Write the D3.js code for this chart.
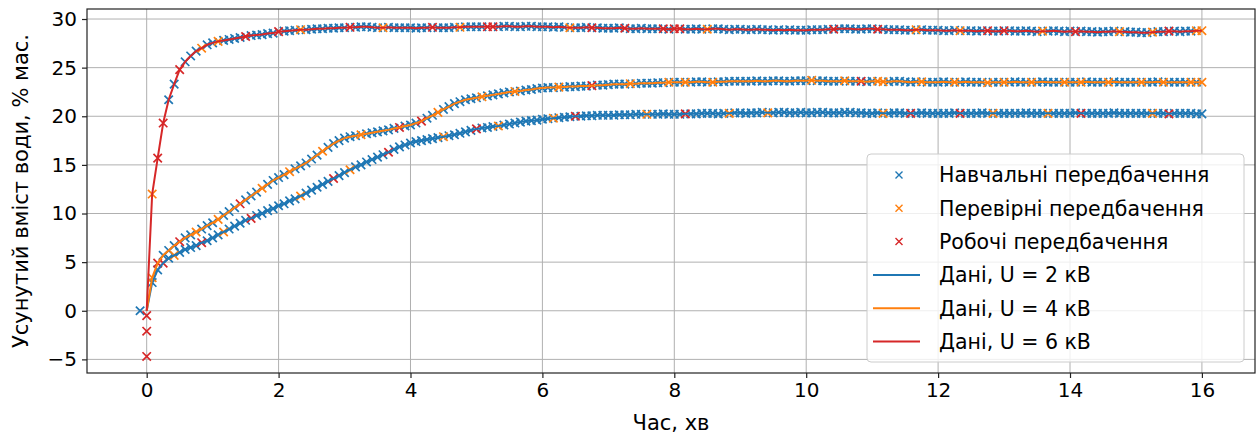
<!DOCTYPE html>
<html><head><meta charset="utf-8">
<script src="https://cdn.jsdelivr.net/npm/d3@7"></script>
<style>
html,body{margin:0;padding:0;background:#fff;}
text{font-family:"DejaVu Sans",sans-serif;fill:#000;}
</style></head>
<body>
<svg id="chart" width="1259" height="438"></svg>
<script>
// ---------- DATA ----------
const stepMin = 5 / 60; // sampling step, minutes (5 s)
const xTicks = [0, 2, 4, 6, 8, 10, 12, 14, 16];
const yTicks = [-5, 0, 5, 10, 15, 20, 25, 30];

const seriesNames = ["Дані, U = 2 кВ", "Дані, U = 4 кВ", "Дані, U = 6 кВ"];
const splitNames = ["Навчальні передбачення", "Перевірні передбачення", "Робочі передбачення"];

// U = 2 kV (one row per minute, 12 samples per row)
const valuesU2 = [
  0, 2.9, 4.2, 4.9, 5.4, 5.7, 6.0, 6.3, 6.5, 6.7, 7.0, 7.2,
  7.5, 7.8, 8.1, 8.4, 8.7, 9.0, 9.3, 9.5, 9.8, 10.0, 10.3, 10.5,
  10.8, 11.0, 11.3, 11.5, 11.8, 12.1, 12.4, 12.7, 13.0, 13.3, 13.6, 13.9,
  14.2, 14.5, 14.8, 15.0, 15.3, 15.55, 15.8, 16.05, 16.3, 16.6, 16.85, 17.05,
  17.25, 17.4, 17.5, 17.6, 17.7, 17.8, 17.9, 18.0, 18.1, 18.25, 18.4, 18.55,
  18.7, 18.8, 18.85, 18.95, 19.0, 19.1, 19.2, 19.3, 19.4, 19.5, 19.55, 19.6,
  19.7, 19.75, 19.8, 19.85, 19.9, 19.95, 20.0, 20.0, 20.05, 20.05, 20.1, 20.1,
  20.1, 20.1, 20.15, 20.15, 20.15, 20.2, 20.2, 20.2, 20.2, 20.2, 20.25, 20.2,
  20.2, 20.2, 20.25, 20.25, 20.25, 20.3, 20.3, 20.3, 20.25, 20.3, 20.3, 20.35,
  20.35, 20.3, 20.35, 20.35, 20.4, 20.35, 20.35, 20.4, 20.4, 20.35, 20.35, 20.4,
  20.35, 20.35, 20.4, 20.4, 20.35, 20.35, 20.35, 20.4, 20.4, 20.35, 20.35, 20.3,
  20.3, 20.35, 20.3, 20.3, 20.35, 20.35, 20.3, 20.3, 20.3, 20.35, 20.3, 20.3,
  20.3, 20.3, 20.3, 20.35, 20.3, 20.3, 20.3, 20.3, 20.35, 20.3, 20.3, 20.3,
  20.3, 20.3, 20.3, 20.3, 20.35, 20.3, 20.3, 20.3, 20.3, 20.3, 20.3, 20.3,
  20.3, 20.35, 20.3, 20.3, 20.3, 20.3, 20.3, 20.3, 20.35, 20.3, 20.3, 20.3,
  20.3, 20.3, 20.3, 20.3, 20.3, 20.3, 20.25, 20.3, 20.3, 20.3, 20.3, 20.25,
  20.25
];
// U = 4 kV
const valuesU4 = [
  0, 3.4, 4.9, 5.7, 6.2, 6.7, 7.1, 7.5, 7.8, 8.1, 8.4, 8.75,
  9.05, 9.4, 9.8, 10.2, 10.6, 11.0, 11.4, 11.8, 12.2, 12.6, 13.0, 13.4,
  13.7, 14.0, 14.3, 14.6, 14.9, 15.2, 15.6, 16.0, 16.4, 16.8, 17.2, 17.5,
  17.75, 17.9, 18.0, 18.1, 18.2, 18.3, 18.4, 18.5, 18.6, 18.75, 18.85, 19.0,
  19.1, 19.3, 19.5, 19.8, 20.1, 20.4, 20.7, 21.0, 21.3, 21.5, 21.7, 21.8,
  21.9, 22.0, 22.1, 22.2, 22.3, 22.4, 22.5, 22.55, 22.6, 22.7, 22.75, 22.85,
  22.9, 22.95, 22.95, 23.0, 23.0, 23.05, 23.05, 23.1, 23.1, 23.15, 23.2, 23.2,
  23.25, 23.3, 23.3, 23.3, 23.35, 23.35, 23.4, 23.4, 23.4, 23.45, 23.45, 23.5,
  23.5, 23.5, 23.5, 23.5, 23.55, 23.55, 23.5, 23.5, 23.55, 23.55, 23.6, 23.6,
  23.6, 23.6, 23.6, 23.65, 23.6, 23.6, 23.65, 23.65, 23.6, 23.6, 23.65, 23.65,
  23.65, 23.7, 23.65, 23.65, 23.6, 23.6, 23.6, 23.65, 23.6, 23.6, 23.6, 23.55,
  23.6, 23.6, 23.55, 23.55, 23.6, 23.6, 23.55, 23.5, 23.55, 23.55, 23.5, 23.5,
  23.5, 23.55, 23.5, 23.5, 23.5, 23.55, 23.5, 23.5, 23.5, 23.45, 23.5, 23.5,
  23.5, 23.5, 23.55, 23.5, 23.5, 23.5, 23.5, 23.55, 23.5, 23.5, 23.5, 23.5,
  23.5, 23.5, 23.5, 23.55, 23.5, 23.5, 23.5, 23.5, 23.55, 23.5, 23.5, 23.5,
  23.5, 23.5, 23.5, 23.5, 23.55, 23.5, 23.5, 23.5, 23.5, 23.5, 23.5, 23.5,
  23.5
];
// U = 6 kV
const valuesU6 = [
  0, 12.0, 15.7, 19.3, 21.7, 23.3, 24.8, 25.6, 26.2, 26.7, 27.0, 27.35,
  27.55, 27.7, 27.8, 27.9, 28.0, 28.1, 28.2, 28.3, 28.35, 28.4, 28.5, 28.55,
  28.7, 28.75, 28.8, 28.85, 28.9, 28.9, 28.95, 29.0, 29.0, 29.05, 29.05, 29.1,
  29.1, 29.15, 29.15, 29.2, 29.2, 29.15, 29.1, 29.1, 29.15, 29.1, 29.1, 29.1,
  29.1, 29.05, 29.1, 29.1, 29.15, 29.1, 29.1, 29.1, 29.15, 29.15, 29.2, 29.2,
  29.2, 29.2, 29.2, 29.2, 29.2, 29.25, 29.25, 29.2, 29.2, 29.25, 29.25, 29.2,
  29.2, 29.2, 29.15, 29.2, 29.15, 29.1, 29.1, 29.1, 29.15, 29.1, 29.1, 29.05,
  29.05, 29.05, 29.1, 29.05, 29.0, 29.0, 29.05, 29.0, 29.0, 29.0, 29.0, 28.95,
  29.0, 29.0, 28.95, 28.95, 29.0, 28.95, 28.95, 29.0, 29.0, 28.95, 28.9, 28.95,
  28.95, 28.9, 28.9, 28.95, 28.9, 28.9, 28.85, 28.9, 28.85, 28.9, 28.85, 28.85,
  28.85, 28.9, 28.9, 28.9, 28.95, 28.95, 29.0, 29.0, 29.0, 28.95, 28.95, 29.0,
  29.0, 28.95, 28.95, 28.9, 28.9, 28.9, 28.85, 28.85, 28.9, 28.9, 28.85, 28.85,
  28.85, 28.8, 28.8, 28.85, 28.8, 28.8, 28.8, 28.75, 28.8, 28.8, 28.75, 28.75,
  28.8, 28.8, 28.75, 28.75, 28.8, 28.75, 28.7, 28.75, 28.75, 28.8, 28.75, 28.7,
  28.75, 28.7, 28.75, 28.7, 28.7, 28.65, 28.7, 28.7, 28.75, 28.7, 28.7, 28.65,
  28.65, 28.6, 28.6, 28.65, 28.7, 28.7, 28.75, 28.75, 28.7, 28.75, 28.75, 28.8,
  28.8
];

// split of each sample: T = training, V = validation, S = test, - = none
const splitU2 = [
  "-TTSTVTTTTST","TTVTTTTSTTTT","TTTTVTTTTTST","TVTTTTTTSTTT","TTTTTTVTTTTT",
  "STTTVTTTTTTT","TTVTTTSTTTTT","TTTTTTTVTTTT","TTSTTTTTTTVT","TTTTTVTTTTTT",
  "TTTTTTTTTTTT","TTVTTTTSTTTT","TTTTSTTTTTVT","TTTTTTTTVTTT","TTSTTTTTTTTT",
  "TTTVTTSTTTTT","T"
];
const splitU4 = [
  "-VSTTTSTTVTT","TVTTTSTTTVTT","TTVTTTTTVTTT","TTTVTTTTTTST","TTSTTVTTTTTT",
  "TVTTTTTVTTTT","TTTVTTTTTSTT","TTTTVTTTTTTV","TTVTTTTVTTTT","TTTTTTTTTTTT",
  "TVTTTTTVTTST","TVVTTTTTTVTT","TTTVTTTTTVTT","VTTTTVTTTTTV","TTVTTTTVTTTT",
  "TVTTTVTTTTVT","V"
];
const splitU6 = [
  "-VSSTTSTTTVT","TVTTTTSTTTTT","STTTVTTTTTTT","TSTTTTTVTTTT","TTTTSTTTTVTT",
  "TTSSTTTTTTTT","TTTTTVTTTSTT","TTTSTTTTTTST","SSTTTTVTTTTT","TTTTTTTTTTTT",
  "TTTTTSTTTTTT","TSTTTTTTVTTT","TTTTVTTTTSTT","STTTTTTVTTTT","TSTTTTTTTVTT",
  "TTTVTTSTTTTV","V"
];
// stray predictions at the start
const extraT = [-0.1, 0, 0, 0];
const extraV = [0, -0.5, -2.1, -4.7];
const extraSplit = ["T", "S", "S", "S"];

// ---------- CHART ----------
const colors = ["#1f77b4", "#ff7f0e", "#d62728"];
const splitCode = {T: 0, V: 1, S: 2};
const svg = d3.select("#chart");
const L = 87, R = 1255, T = 9, B = 373;
const x = d3.scaleLinear().domain([-0.905, 16.805]).range([L, R]);
const y = d3.scaleLinear().domain([-6.4, 31.03]).range([B, T]);

// grid
const g = svg.append("g");
g.selectAll(".gx").data(xTicks).enter().append("line")
  .attr("x1", d => x(d)).attr("x2", d => x(d)).attr("y1", T).attr("y2", B)
  .attr("stroke", "#b0b0b0").attr("stroke-width", 1);
g.selectAll(".gy").data(yTicks).enter().append("line")
  .attr("y1", d => y(d)).attr("y2", d => y(d)).attr("x1", L).attr("x2", R)
  .attr("stroke", "#b0b0b0").attr("stroke-width", 1);

// marker data
const allVals = [valuesU2, valuesU4, valuesU6];
const allSplit = [splitU2.join(""), splitU4.join(""), splitU6.join("")];
const pts = [];
extraT.forEach((t, i) => pts.push({t, v: extraV[i], s: splitCode[extraSplit[i]]}));
allVals.forEach((vals, k) => {
  vals.forEach((v, i) => {
    const c = allSplit[k][i];
    if (c in splitCode) pts.push({t: i * stepMin, v, s: splitCode[c]});
  });
});
const ms = 4.2;
function cross(sel) {
  sel.attr("d", d => {
    const cx = x(d.t), cy = y(d.v);
    return `M${cx-ms},${cy-ms}L${cx+ms},${cy+ms}M${cx-ms},${cy+ms}L${cx+ms},${cy-ms}`;
  });
}
[0, 1, 2].forEach(s => {
  svg.append("g").selectAll("path").data(pts.filter(p => p.s === s)).enter().append("path")
    .call(cross).attr("stroke", colors[s]).attr("stroke-width", 1.7).attr("fill", "none");
});

// lines
const line = d3.line().x((d, i) => x(i * stepMin)).y(d => y(d));
allVals.forEach((vals, k) => {
  svg.append("path").datum(vals).attr("d", line).attr("fill", "none")
    .attr("stroke", colors[k]).attr("stroke-width", 2).attr("stroke-linejoin", "round");
});

// frame
svg.append("rect").attr("x", L).attr("y", T).attr("width", R - L).attr("height", B - T)
  .attr("fill", "none").attr("stroke", "#222").attr("stroke-width", 1.2);

// axes
const xa = svg.append("g").attr("transform", `translate(0,${B})`)
  .call(d3.axisBottom(x).tickValues(xTicks).tickSize(5).tickPadding(5).tickFormat(d3.format("d")));
const ya = svg.append("g").attr("transform", `translate(${L},0)`)
  .call(d3.axisLeft(y).tickValues(yTicks).tickSize(5).tickPadding(5).tickFormat(d => d < 0 ? "−" + Math.abs(d) : d));
[xa, ya].forEach(a => {
  a.select(".domain").remove();
  a.selectAll("text").style("font-family", "DejaVu Sans").style("font-size", "20px").attr("fill", "#000");
  a.selectAll("line").attr("stroke", "#222").attr("stroke-width", 1.2);
});

svg.append("text").attr("x", (L + R) / 2).attr("y", 430).attr("text-anchor", "middle")
  .style("font-size", "21px").text("Час, хв");
svg.append("text").attr("transform", `translate(28,${(T + B) / 2}) rotate(-90)`)
  .attr("text-anchor", "middle").style("font-size", "21px").text("Усунутий вміст води, % мас.");

// legend
const lg = svg.append("g").attr("transform", "translate(867,154)");
lg.append("rect").attr("width", 377).attr("height", 208).attr("rx", 4)
  .attr("fill", "#fff").attr("fill-opacity", 0.8).attr("stroke", "#cccccc").attr("stroke-width", 1);
const rowY = i => 21 + i * 33.3;
splitNames.forEach((n, i) => {
  const cy = rowY(i), cx = 32, m = 3.5;
  lg.append("path").attr("d", `M${cx-m},${cy-m}L${cx+m},${cy+m}M${cx-m},${cy+m}L${cx+m},${cy-m}`)
    .attr("stroke", colors[i]).attr("stroke-width", 1.4);
  lg.append("text").attr("x", 72).attr("y", cy).attr("dy", "0.36em").style("font-size", "20.5px").text(n);
});
seriesNames.forEach((n, i) => {
  const cy = rowY(i + 3);
  lg.append("line").attr("x1", 6).attr("x2", 53).attr("y1", cy).attr("y2", cy)
    .attr("stroke", colors[i]).attr("stroke-width", 2);
  lg.append("text").attr("x", 72).attr("y", cy).attr("dy", "0.36em").style("font-size", "20.5px").text(n);
});
</script>
</body></html>
